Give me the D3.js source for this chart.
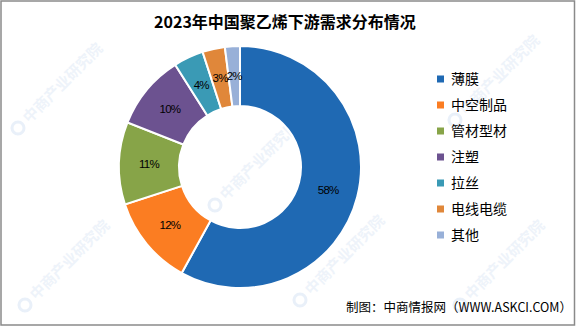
<!DOCTYPE html>
<html>
<head>
<meta charset="utf-8">
<script src="https://cdn.jsdelivr.net/npm/d3@7"></script>
<style>
  html, body { margin: 0; padding: 0; background: #fff; }
  svg { display: block; }
</style>
</head>
<body>
<svg id="chart" width="585" height="327"></svg>
<script>
// 2023年中国聚乙烯下游需求分布
const categories = ["薄膜", "中空制品", "管材型材", "注塑", "拉丝", "电线电缆", "其他"];
const shares = [58, 12, 11, 10, 4, 3, 2];
const colors = ["#1f69b3", "#fb7d22", "#87a448", "#6c5290", "#3a9ab5", "#e0873a", "#98b0d8"];

const W = 585, H = 327;
const svg = d3.select("#chart");

// frame
svg.append("rect")
  .attr("x", 1).attr("y", 1).attr("width", 573.5).attr("height", 324)
  .attr("fill", "#fff").attr("stroke", "#8a8a8a").attr("stroke-width", 1.5);

// faint site watermarks
const wm = svg.append("g").attr("pointer-events", "none");
const wmSpots = [[18, 128], [215, 205], [455, 120], [25, 305], [300, 300], [460, 305]];
wmSpots.forEach(([x, y]) => {
  const g = wm.append("g").attr("transform", `translate(${x},${y}) rotate(-45)`);
  g.append("circle").attr("cx", 0).attr("cy", 0).attr("r", 6)
    .attr("fill", "none").attr("stroke", "#a9c3e6").attr("stroke-width", 3).attr("opacity", 0.25);
  g.append("text").attr("x", 11).attr("y", 5)
    .attr("font-family", "Noto Sans CJK SC").attr("font-size", 15).attr("font-weight", "bold")
    .attr("fill", "#b3cbea").attr("opacity", 0.22).text("中商产业研究院");
});

// title
svg.append("text")
  .attr("x", 285).attr("y", 28).attr("text-anchor", "middle")
  .attr("font-family", "Noto Sans CJK SC").attr("font-weight", "bold").attr("font-size", 16)
  .attr("fill", "#000").text("2023年中国聚乙烯下游需求分布情况");

// donut
const cx = 240, cy = 167, rOuter = 121, rInner = 61;
const pie = d3.pie().sort(null).value(d => d.v);
const arcs = pie(categories.map((c, i) => ({ c, v: shares[i], col: colors[i] })));
const arc = d3.arc().innerRadius(rInner).outerRadius(rOuter);
const labelArc = d3.arc().innerRadius((rInner + rOuter) / 2).outerRadius((rInner + rOuter) / 2);

const g = svg.append("g").attr("transform", `translate(${cx},${cy})`);
g.selectAll("path").data(arcs).join("path")
  .attr("d", arc)
  .attr("fill", d => d.data.col)
  .attr("stroke", "#fff").attr("stroke-width", 2);

g.selectAll("text.pct").data(arcs).join("text")
  .attr("class", "pct")
  .attr("transform", d => `translate(${labelArc.centroid(d)})`)
  .attr("text-anchor", "middle").attr("dy", "0.35em")
  .attr("font-family", "Liberation Sans, Arial").attr("font-size", 11.5)
  .attr("letter-spacing", -0.7)
  .attr("fill", "#000")
  .text(d => d.data.v + "%");

// legend
const legend = svg.append("g").attr("transform", "translate(437,79)");
const rowH = 26;
const items = legend.selectAll("g").data(categories).join("g")
  .attr("transform", (d, i) => `translate(0,${i * rowH})`);
items.append("rect").attr("x", 0).attr("y", -3.5).attr("width", 7).attr("height", 7)
  .attr("fill", (d, i) => colors[i]);
items.append("text").attr("x", 14).attr("y", 0).attr("dy", "0.36em")
  .attr("font-family", "Noto Sans CJK SC").attr("font-size", 14).attr("fill", "#000")
  .text(d => d);

// source note
svg.append("text")
  .attr("x", 572).attr("y", 312).attr("text-anchor", "end")
  .attr("font-family", "Noto Sans CJK SC").attr("font-size", 12.5).attr("fill", "#000")
  .text("制图：中商情报网（WWW.ASKCI.COM）");
</script>
</body>
</html>
